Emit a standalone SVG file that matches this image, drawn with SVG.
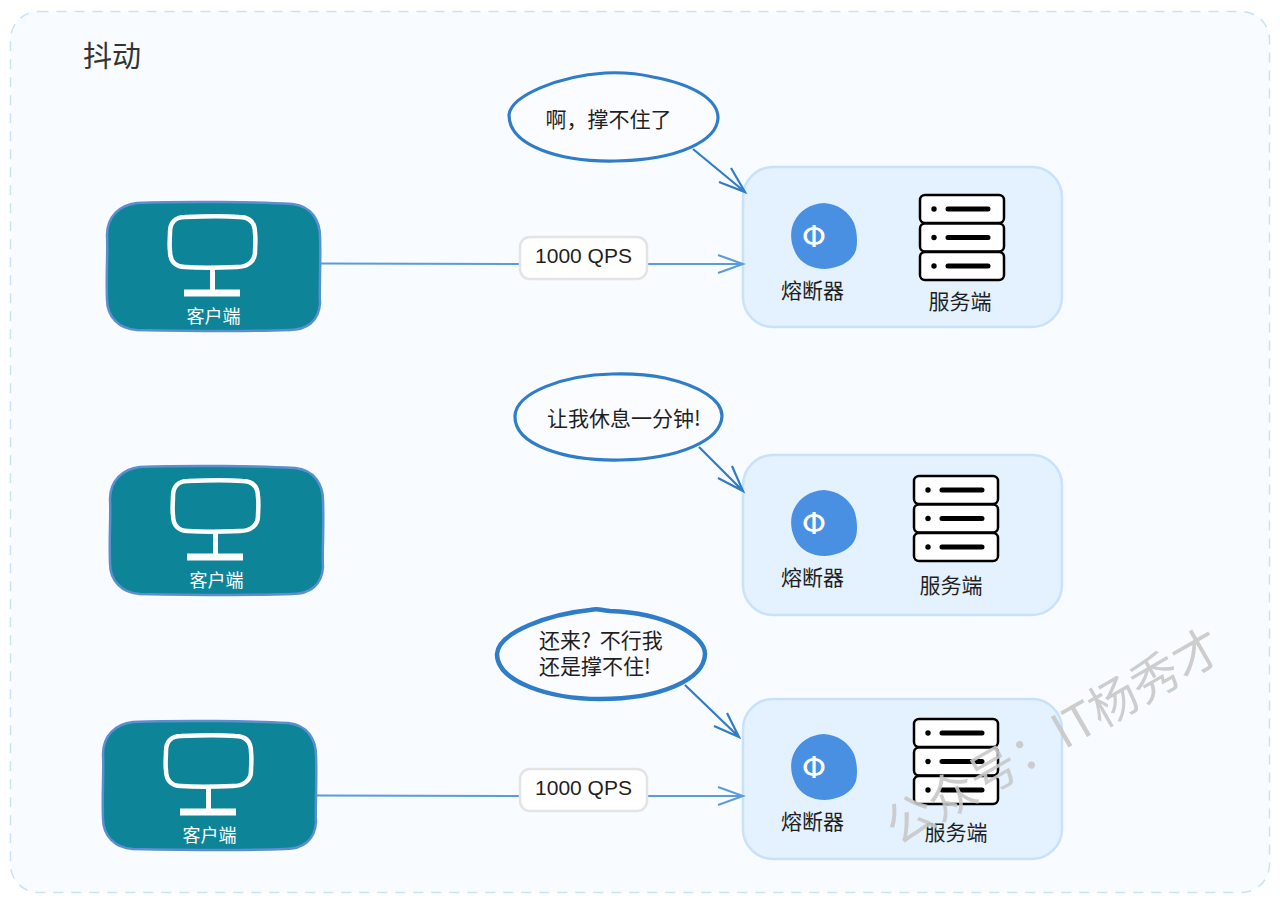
<svg xmlns="http://www.w3.org/2000/svg" width="1280" height="903" viewBox="0 0 1280 903">
<style>
text{font-family:"Noto Sans CJK SC","Liberation Sans",sans-serif;fill:#1f1f1f}
.cbox{fill:#0e8499;stroke:#5b8fd0;stroke-width:2.5}
.mon{fill:none;stroke:#fff;stroke-width:4.5;stroke-linejoin:round}
.wh{fill:#fff}
.clab{font-size:18px;fill:#fff;text-anchor:middle}
.cont{fill:#e4f1ff;stroke:#c9e2fb;stroke-width:2.5}
.brk{fill:#4a90e2}
.phi{font-family:"DejaVu Sans",sans-serif;font-size:31px;fill:#fff;text-anchor:middle}
.lab{font-size:21px;text-anchor:middle}
.srv{fill:#fff;stroke:#000;stroke-width:2.5}
.bar{fill:none;stroke:#000;stroke-width:5;stroke-linecap:round}
.bub{fill:#fafcff;stroke:#2f7cc8;stroke-width:3.2}
.say{font-size:21px}
.ar{fill:none;stroke:#2f7cc8;stroke-width:2.2}
.fl{fill:none;stroke:#5b9bdc;stroke-width:2}
.pill{fill:#fff;stroke:#e2e4e6;stroke-width:2.5}
.qps{font-family:"Liberation Sans","Noto Sans CJK SC",sans-serif;font-size:21px;text-anchor:middle}
</style>
<defs>
<g id="client">
<path class="cbox" d="M30 0C80-2 150-1 185 1C205 3 213 18 213 34C214 60 212 90 213 100C212 118 200 127 182 127C130 129 80 128 30 127C12 126 0 114 0 96C-1 70 1 50 0 32C0 14 12 2 30 0Z"/>
<path class="mon" d="M78 14C100 13 120 13 132 14C143 14 148 20 148 30C149 37 148 43 148 49C148 58 141 64 130 64C110 65 90 65 78 64C68 64 63 58 63 48C62 42 63 36 63 29C63 20 68 14 78 14Z"/>
<rect class="wh" x="103" y="65" width="5" height="23"/>
<rect class="wh" x="77" y="86.500" width="56" height="7"/>
<text class="clab" x="106.500" y="120">客户端</text>
</g>
<g id="server">
<rect class="srv" x="1" y="1" width="84" height="28" rx="5"/>
<rect class="srv" x="1" y="29.500" width="84" height="28" rx="5"/>
<rect class="srv" x="1" y="58" width="84" height="28" rx="5"/>
<circle cx="15" cy="15" r="2.700"/><circle cx="15" cy="43.500" r="2.700"/><circle cx="15" cy="72" r="2.700"/>
<path class="bar" d="M29 15H69M29 43.500H69M29 72H69"/>
</g>
<g id="breaker">
<path class="brk" d="M33-33C47-32 58-24 63-13C66-5 67 6 65 14C61 26 48 32 34 33C21 33 9 27 4 16C-1 6-1-6 3-14C9-26 19-32 33-33Z"/>
<text class="phi" x="23" y="11">Φ</text>
</g>
</defs>
<g id="frame"><rect x="10.500" y="11.500" width="1259" height="881" rx="28" fill="#f8fbff" stroke="#c9e2f5" stroke-width="1.500" stroke-dasharray="10 8"/></g>
<g id="title"><text x="83" y="67" font-size="29" style="fill:#333">抖动</text></g>

<g id="server-box-1"><rect class="cont" x="743" y="167" width="319" height="160" rx="30"/></g>
<g id="server-box-2"><rect class="cont" x="743" y="455" width="319" height="160" rx="30"/></g>
<g id="server-box-3"><rect class="cont" x="743" y="699" width="319" height="160" rx="30"/></g>

<g id="connectors">
<path class="fl" d="M320 263.500L520 264M648 264L742 264M718 255L743 264L718 273"/>
<path class="fl" d="M316 795.500L520 796M648 796L742 796M718 787L743 796L718 805"/>
<path class="ar" d="M693 149L745 192M731 168L745 192L719 182"/>
<path class="ar" d="M699 447L743 491M732 466L743 491L718 478"/>
<path class="ar" d="M685 685L739 737M727 713L739 737L714 726"/>
</g>

<g id="client-1"><use href="#client" x="107" y="203"/></g>
<g id="client-2"><use href="#client" x="110" y="467"/></g>
<g id="client-3"><use href="#client" x="103" y="722"/></g>

<g id="breaker-1"><use href="#breaker" x="791" y="236"/><text class="lab" x="812.500" y="298">熔断器</text></g>
<g id="breaker-2"><use href="#breaker" x="791" y="523"/><text class="lab" x="812.500" y="585">熔断器</text></g>
<g id="breaker-3"><use href="#breaker" x="791" y="767"/><text class="lab" x="812.500" y="829">熔断器</text></g>

<g id="server-1"><use href="#server" x="919" y="194"/><text class="lab" x="960" y="309">服务端</text></g>
<g id="server-2"><use href="#server" x="913" y="475"/><text class="lab" x="951" y="593">服务端</text></g>
<g id="server-3"><use href="#server" x="913" y="718"/><text class="lab" x="956" y="840">服务端</text></g>

<g id="qps-1"><rect class="pill" x="520" y="237" width="127" height="42" rx="10"/><text class="qps" x="583.500" y="263">1000 QPS</text></g>
<g id="qps-2"><rect class="pill" x="520" y="769" width="127" height="42" rx="10"/><text class="qps" x="583.500" y="795">1000 QPS</text></g>

<g id="bubble-1"><path class="bub" d="M509 115C511 95 560 76 605 73C625 72 640 74 653 77C695 85 718 100 718 118C717 140 680 160 615 161C560 162 509 146 509 115Z"/><text class="say" x="545.500" y="127">啊，撑不住了</text></g>
<g id="bubble-2"><path class="bub" d="M515 416C516 392 565 375 612 374C640 373 655 376 665 378C700 386 722 400 722 416C721 440 680 459 620 460C565 461 514 445 515 416Z"/><text class="say" x="547" y="426">让我休息一分钟!</text></g>
<g id="bubble-3"><path class="bub" style="stroke-width:4.500" d="M497 654C498 632 550 614 590 610C600 608 598 610 610 611C665 613 705 635 705 654C704 680 660 699 600 699C550 699 497 682 497 654Z"/><text class="say" x="539" y="648" word-spacing="4">还来? 不行我<tspan x="539" dy="26">还是撑不住!</tspan></text></g>

<g id="watermark"><text x="0" y="0" font-size="48" transform="translate(898 846) rotate(-30)" style="fill:#c8c8c8;fill-opacity:.9">公众号：IT杨秀才</text></g>
</svg>
